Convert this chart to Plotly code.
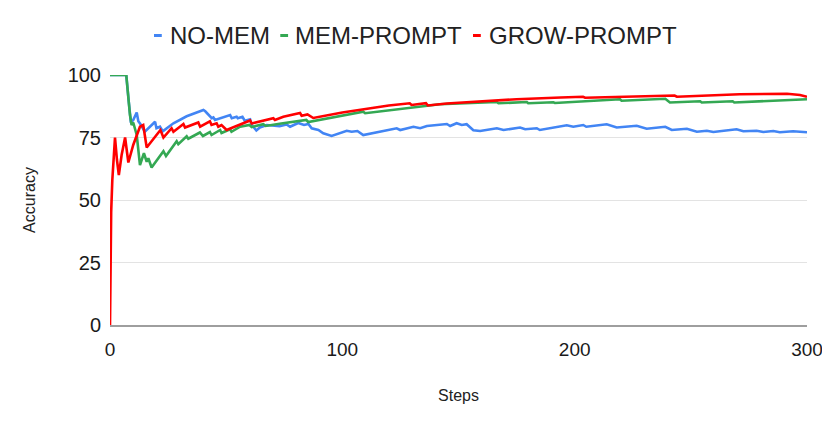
import plotly.graph_objects as go

# ---------------- data ----------------
series_names = ["NO-MEM", "MEM-PROMPT", "GROW-PROMPT"]
series_colors = ["#4285F4", "#34A853", "#FF0000"]

nomem_steps = [0, 7, 8, 9, 10, 11.5, 12.2, 13, 15, 19.4, 20, 21.5, 22.7, 27.3, 33, 40.2, 41, 42.3,
               43.8, 44.5, 45.2, 51.7, 52.4, 54.5, 55, 57, 58, 60.3, 61, 63, 64.5, 67.5, 73, 76,
               77.5, 81, 83.5, 85.4, 86.8, 89.7, 91.8, 95.4, 101.9, 104, 106.5, 109, 116, 123.4,
               124.9, 130.6, 133.5, 136.4, 145, 146.4, 149.2, 151.4, 153.5, 156.4, 159.3, 166.5,
               169.4, 176.5, 178.7, 183.7, 185, 192.3, 196.6, 199.4, 203.7, 205, 213.8, 218.1,
               226.7, 231, 239, 241.8, 248.3, 252.6, 256.9, 259.7, 269.7, 272.6, 278.3, 281.2,
               285.5, 288.3, 294, 300]
nomem_acc = [100, 100, 90, 81, 82, 85, 81.5, 80.5, 77.3, 81.3, 78.7, 79.3, 77.5, 80.7, 83.5, 86, 85.5, 84,
             82.7, 83, 82, 84, 82.7, 83.3, 82.7, 83.3, 81.7, 82.3, 80, 77.8, 79, 80, 79.5, 80.2,
             79.3, 80.8, 80, 80.4, 78.7, 78, 76.7, 75.6, 77.7, 77.3, 77.6, 76, 77.3, 78.7,
             78, 79.3, 78.7, 79.6, 80.4, 79.6, 80.7, 80, 80.3, 77.9, 77.6, 78.7,
             78, 79, 78.3, 78.7, 78, 79.3, 79.9, 79.3, 80, 79.3, 80.3, 79,
             79.7, 78.5, 79.3, 78, 78.5, 77.3, 77.7, 77.2, 78.3, 77.5, 77.7, 77.2,
             77.6, 77.1, 77.5, 77.1]

memprompt_steps = [0, 7, 8.6, 9.3, 10, 11.5, 12.9, 14.6, 15.8, 16.5, 17.9, 23, 24.1, 28.7, 29.4, 33,
                   33.7, 38.7, 40, 43, 43.7, 47.4, 48, 51.7, 52.3, 56, 60, 61, 66, 67, 73, 80, 84.5,
                   85.3, 95, 109, 109.8, 125, 142, 166.5, 167.2, 179.4, 180, 190.8, 191.5, 219.5,
                   220.2, 239, 241, 254, 254.7, 268, 268.7, 300]
memprompt_acc = [100, 100, 84, 80, 81, 76, 64, 68.7, 65.3, 66.7, 63, 69.5, 67.6, 73.5, 72.3, 75.5,
                 74.5, 77, 75.6, 77.2, 76, 78, 76.8, 78.3, 77.3, 79.3, 80, 79.2, 80.3, 79.6, 80.5, 81.5, 82,
                 81.2, 83, 85.3, 84.7, 86.5, 88.3, 89.2, 88.7, 89.2, 88.7, 89.1, 88.8, 90.3,
                 89.7, 90.5, 89, 89.5, 89, 89.5, 89, 90.3]

growprompt_steps = [0, 0.25, 0.5, 1, 1.5, 2.15, 3, 3.8, 5, 6.5, 7.9, 10, 12.9, 14.3, 15.8, 20.8, 21.7,
                    23, 26.5, 27.3, 31.6, 32.3, 38, 38.8, 43, 43.7, 45.9, 46.6, 48, 50.2, 56, 60.3,
                    61, 70.3, 71, 74.6, 81.8, 82.5, 85, 87.5, 100, 110, 120, 129, 129.8, 136, 136.8,
                    145, 160, 175, 194, 203.6, 204.5, 228, 243, 244, 260, 271, 291.4, 294, 297, 300]
growprompt_acc = [0, 30, 45, 58, 67, 75, 66, 60, 68, 75, 65, 72, 79.3, 80, 71, 77.3, 78,
                  75, 78.7, 77.3, 80.4, 79, 81, 79.3, 81.5, 80, 80.7, 79.3, 80, 78, 80, 81.8,
                  80.6, 82.7, 82, 83.3, 84.8, 83.7, 84.2, 82.8, 85, 86.5, 87.8, 88.7, 88, 88.7, 87.8,
                  88.6, 89.6, 90.3, 91, 91.3, 90.9, 91.6, 91.8, 91.3, 91.8, 92.3, 92.5, 92.3, 92, 91.3]

x_ticks = [0, 100, 200, 300]
y_ticks = [0, 25, 50, 75, 100]
x_title = "Steps"
y_title = "Accuracy"

# ---------------- figure ----------------
FONT = "Arial, 'Liberation Sans', sans-serif"
fig = go.Figure()

all_x = [nomem_steps, memprompt_steps, growprompt_steps]
all_y = [nomem_acc, memprompt_acc, growprompt_acc]

for name, color, xs, ys in zip(series_names, series_colors, all_x, all_y):
    fig.add_trace(go.Scatter(x=xs, y=ys, mode="lines", name=name, showlegend=False,
                             line=dict(color=color, width=2.6), hoverinfo="skip"))

# legend (top, centred): short coloured key + label for each series
legend_key_x = [0.0631, 0.2443, 0.5208]   # left edge of each key, paper fraction
legend_text_x = [0.0835, 0.2631, 0.5413]  # left edge of each label, paper fraction
key_len = 0.0112
legend_y = 1.16
for name, color, kx, tx in zip(series_names, series_colors, legend_key_x, legend_text_x):
    fig.add_shape(type="line", xref="paper", yref="paper", x0=kx, x1=kx + key_len,
                  y0=legend_y - 0.002, y1=legend_y - 0.002, line=dict(color=color, width=3))
    fig.add_annotation(text=name, xref="paper", yref="paper", x=tx, y=legend_y,
                       xanchor="left", yanchor="middle", showarrow=False,
                       font=dict(size=24, color="#222222", family=FONT))

fig.update_layout(
    width=822, height=417,
    margin=dict(l=102, r=23, t=67, b=100, autoexpand=False),
    paper_bgcolor="white", plot_bgcolor="white",
    font=dict(family=FONT, color="#222222"),
    showlegend=False,
    xaxis=dict(range=[0, 300], tickvals=x_ticks, showgrid=False, zeroline=False,
               showline=True, linecolor="#9e9e9e", linewidth=1.5,
               tickfont=dict(size=19, color="#1a1a1a"), ticks="",
               ticklabelstandoff=6, automargin=False, ticklabeloverflow="allow",
               title=dict(text=x_title, font=dict(size=16, color="#222222"), standoff=31)),
    yaxis=dict(range=[0, 100], tickvals=y_ticks, showgrid=True, gridcolor="#e3e3e3",
               gridwidth=1.3, zeroline=False, showline=False, automargin=False,
               tickfont=dict(size=20, color="#1a1a1a"), ticks="",
               ticklabelstandoff=8,
               title=dict(text=y_title, font=dict(size=16, color="#222222"), standoff=28)),
)

fig.write_html("out.html")
